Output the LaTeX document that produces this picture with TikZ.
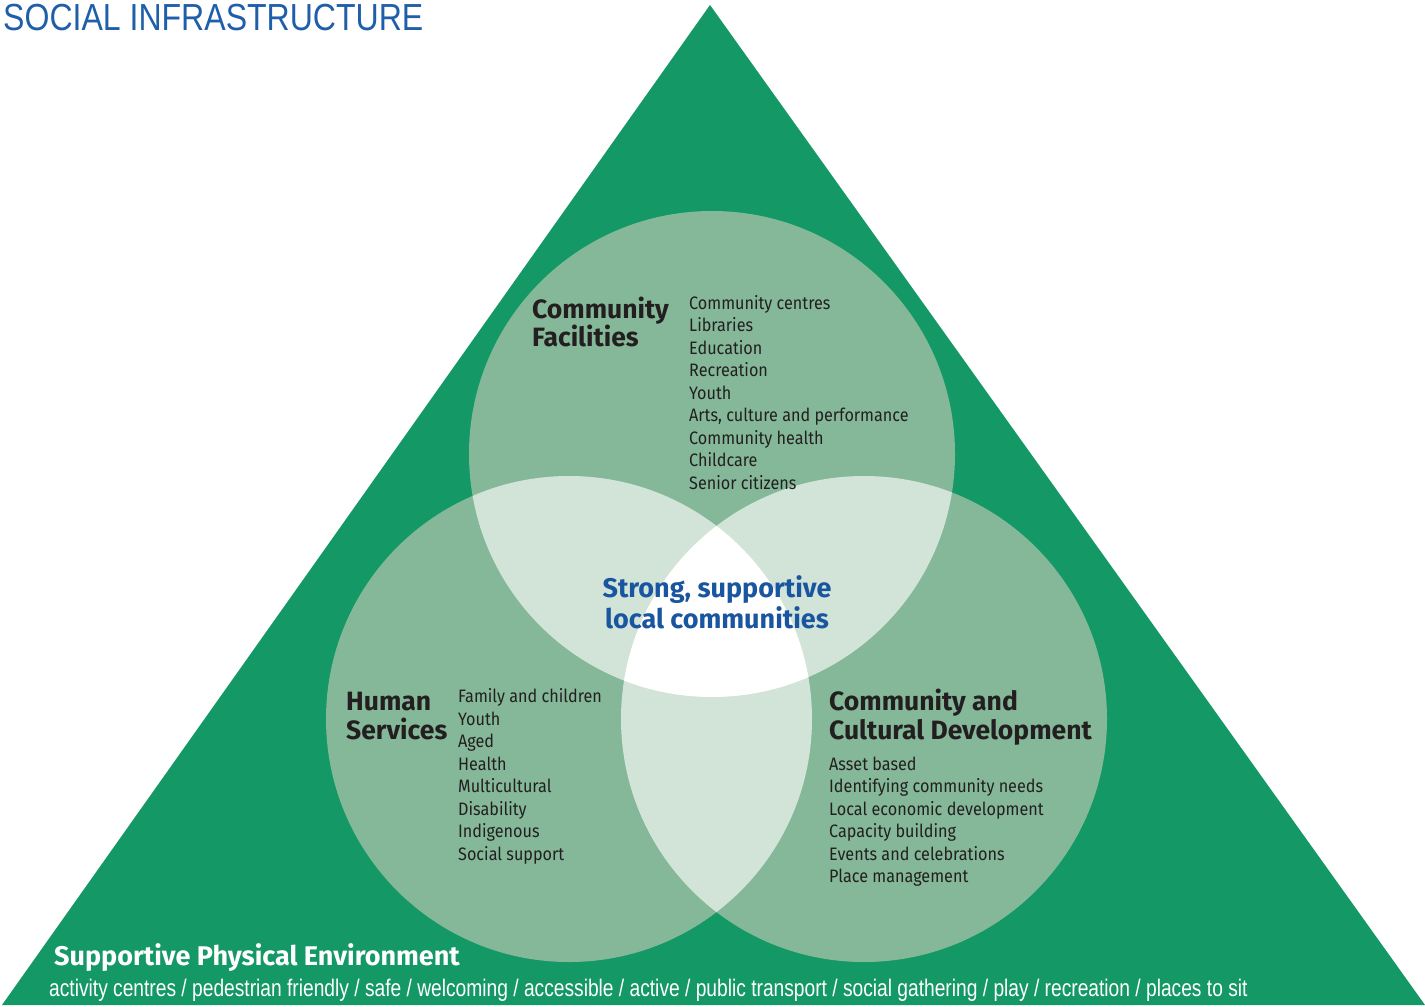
\documentclass[tikz,border=0pt]{standalone}
\usepackage{fontspec}
\setmainfont{Fira Sans}
\newfontfamily\bodyfont[FakeStretch=0.9]{Fira Sans}
\newfontfamily\titlefont[FakeStretch=0.85]{Liberation Sans}
\newfontfamily\narrowfont[FakeStretch=0.8]{Liberation Sans}
\definecolor{envgreen}{HTML}{139866}
\definecolor{ringgreen}{HTML}{84B898}
\definecolor{pairgreen}{HTML}{D2E4D8}
\definecolor{titleblue}{HTML}{1F5FAA}
\definecolor{coreblue}{HTML}{1A55A0}
\definecolor{inktext}{HTML}{231F20}
\tikzset{
  listitem/.style={anchor=base west, inner sep=0pt, text=inktext,
    font=\bodyfont\fontsize{18}{20}\selectfont},
  heading/.style={anchor=base west, inner sep=0pt, text=inktext,
    font=\bfseries\fontsize{26.5}{28}\selectfont},
  coretext/.style={anchor=base, inner sep=0pt, text=coreblue,
    font=\bfseries\fontsize{27}{30}\selectfont},
}
\begin{document}
\begin{tikzpicture}[x=1pt,y=-1pt]
\useasboundingbox (0,0) rectangle (1425,1007);
% the environment
\fill[envgreen] (710,5) -- (2,1005) -- (1425,1005) -- cycle;
% the three circles
\coordinate (cf) at (712,454);
\coordinate (hs) at (569,719);
\coordinate (ccd) at (864,719);
\foreach \c in {cf,hs,ccd}
  \fill[ringgreen] (\c) circle[radius=243pt];
% overlaps of two
\begin{scope}
  \clip (cf) circle[radius=243pt];
  \fill[pairgreen] (hs) circle[radius=243pt];
  \fill[pairgreen] (ccd) circle[radius=243pt];
\end{scope}
\begin{scope}
  \clip (hs) circle[radius=243pt];
  \fill[pairgreen] (ccd) circle[radius=243pt];
\end{scope}
% overlap of all three
\begin{scope}
  \clip (cf) circle[radius=243pt];
  \clip (hs) circle[radius=243pt];
  \fill[white] (ccd) circle[radius=243pt];
\end{scope}

\node[anchor=base west, inner sep=0pt, text=titleblue,
  font=\titlefont\fontsize{37.7}{40}\selectfont] (title) at (3,30) {SOCIAL INFRASTRUCTURE};

% community facilities
\node[heading] (cfhead) at (532,318) {Community};
\node[heading] (cfhead2) at (532,346) {Facilities};
\foreach \t [count=\i] in {Community centres, Libraries, Education, Recreation, Youth,
    {Arts, culture and performance}, Community health, Childcare, Senior citizens}
  \node[listitem] (cf\i) at (689,{286.5+22.5*\i}) {\t};

% human services
\node[heading] (hshead) at (346,710) {Human};
\node[heading] (hshead2) at (346,739) {Services};
\foreach \t [count=\i] in {Family and children, Youth, Aged, Health, Multicultural,
    Disability, Indigenous, Social support}
  \node[listitem] (hs\i) at (458,{680+22.5*\i}) {\t};

% community and cultural development
\node[heading] (ccdhead) at (829,710) {Community and};
\node[heading] (ccdhead2) at (829,739) {Cultural Development};
\foreach \t [count=\i] in {Asset based, Identifying community needs, Local economic development,
    Capacity building, Events and celebrations, Place management}
  \node[listitem] (ccd\i) at (829,{747.5+22.5*\i}) {\t};

% centre
\node[coretext] (core) at (717,597) {Strong, supportive};
\node[coretext] (core2) at (717,628) {local communities};

% supportive physical environment
\node[anchor=base west, inner sep=0pt, text=white,
  font=\bfseries\fontsize{27}{30}\selectfont] (envhead) at (54,965) {Supportive Physical Environment};
\node[anchor=base west, inner sep=0pt, text=white,
  font=\narrowfont\fontsize{24}{26}\selectfont] (envlist) at (49,996)
  {activity centres / pedestrian friendly / safe / welcoming / accessible / active / public transport / social gathering / play / recreation / places to sit};
\end{tikzpicture}
\end{document}
